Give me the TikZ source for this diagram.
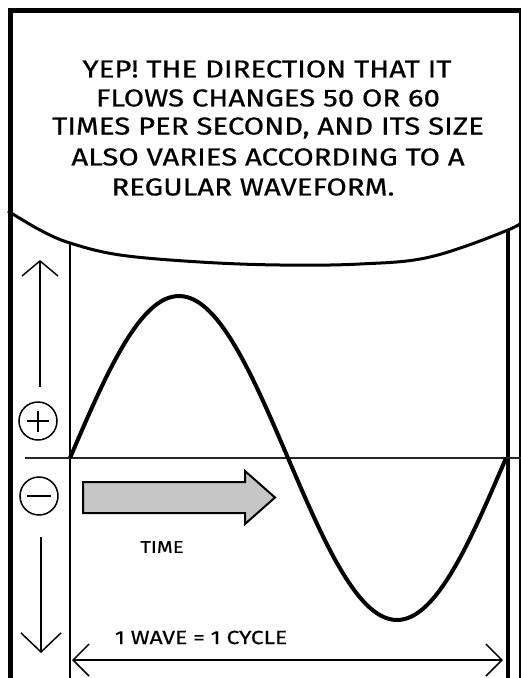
\documentclass[tikz,border=0pt]{standalone}
\usepackage{fontspec}
\setmainfont{Fira Sans}[FakeStretch=1.2, FakeBold=0.6]
\usetikzlibrary{arrows.meta}
\tikzset{
  frameline/.style={line width=5pt},
  bubble/.style={line width=3pt},
  wave/.style={line width=4pt, line join=round},
  guide/.style={line width=1.8pt},
  axisline/.style={line width=1.6pt, black!85},
  thinarrow/.style={line width=1.5pt},
  sign/.style={circle, draw, line width=1.5pt, minimum size=38pt, inner sep=0pt},
  bigtext/.style={font=\fontsize{24.5}{28}\selectfont, inner sep=0pt, anchor=center},
  smalltext/.style={font=\fontsize{19}{22}\selectfont, inner sep=0pt},
  timearrow/.style={line width=2pt, fill=gray!45, line join=miter}
}
\begin{document}
\begin{tikzpicture}[x=1pt, y=-1pt]
\useasboundingbox (0,0) rectangle (521,678);
\clip (0,0) rectangle (521,678);
\fill[white] (0,0) rectangle (521,678);
% frame
\draw[frameline] (10.5,10) -- (521,10);
\draw[frameline] (10.5,7.5) -- (10.5,700);
\draw[frameline] (521,7.5) -- (521,700);
% speech text
\node[bigtext] (l1) at (267,69) {YEP! THE DIRECTION THAT IT};
\node[bigtext] (l2) at (268,98) {FLOWS CHANGES 50 OR 60};
\node[bigtext] (l3) at (268,128) {TIMES PER SECOND, AND ITS SIZE};
\node[bigtext] (l4) at (268,157) {ALSO VARIES ACCORDING TO A};
\node[bigtext] (l5) at (253,187) {REGULAR WAVEFORM.};
% bubble bottom
\coordinate (bl) at (70,243);
\coordinate (br) at (508,230);
\draw[bubble] plot[smooth, tension=0.6] coordinates {(8,211) (40,230) (70,243) (120,255) (200,262) (280,265) (360,264) (430,257) (508,230) (530,216)};
% inner vertical lines
\coordinate (blb) at (70,700);
\coordinate (brb) at (508,700);
\draw[guide] (bl) -- (blb);
\draw[line width=3.5pt] (br) -- (brb);
% axis
\coordinate (ax0) at (25,458);
\coordinate (ax1) at (521,458);
\draw[axisline] (ax0) -- (ax1);
% wave
\draw[wave] plot[domain=0:360, samples=120, smooth] ({70+\x*1.21111}, {458-162*sin(\x)});
% plus / minus
\node[sign] (plus) at (38,421) {};
\draw[line width=1.5pt] ([xshift=-11pt]plus.center) -- ([xshift=11pt]plus.center);
\draw[line width=1.5pt] ([yshift=-10.5pt]plus.center) -- ([yshift=10.5pt]plus.center);
\node[sign] (minus) at (39,496) {};
\draw[line width=1.5pt] ([xshift=-12pt]minus.center) -- ([xshift=12pt]minus.center);
% vertical arrows
\coordinate (upS) at (40,387);
\coordinate (upT) at (40,260);
\draw[thinarrow, -{Straight Barb[length=15pt, width=36pt, line width=1.5pt]}] (upS) -- (upT);
\coordinate (dnS) at (41,537);
\coordinate (dnT) at (41,653);
\draw[thinarrow, -{Straight Barb[length=19pt, width=40pt, line width=1.5pt]}] (dnS) -- (dnT);
% time arrow
\draw[timearrow] (83,482) -- (245,482) -- (245,471) -- (275,497.5) -- (245,524) -- (245,513) -- (83,513) -- cycle;
\node[smalltext, font=\fontsize{17}{20}\selectfont] (time) at (162,547) {TIME};
% cycle arrow
\coordinate (cL) at (72,660);
\coordinate (cR) at (503,660);
\draw[thinarrow, {Straight Barb[length=16pt, width=32pt, line width=1.5pt]}-{Straight Barb[length=16pt, width=32pt, line width=1.5pt]}] (cL) -- (cR);
\node[smalltext] (cyc) at (201,637.5) {1 WAVE = 1 CYCLE};
\end{tikzpicture}
\end{document}
